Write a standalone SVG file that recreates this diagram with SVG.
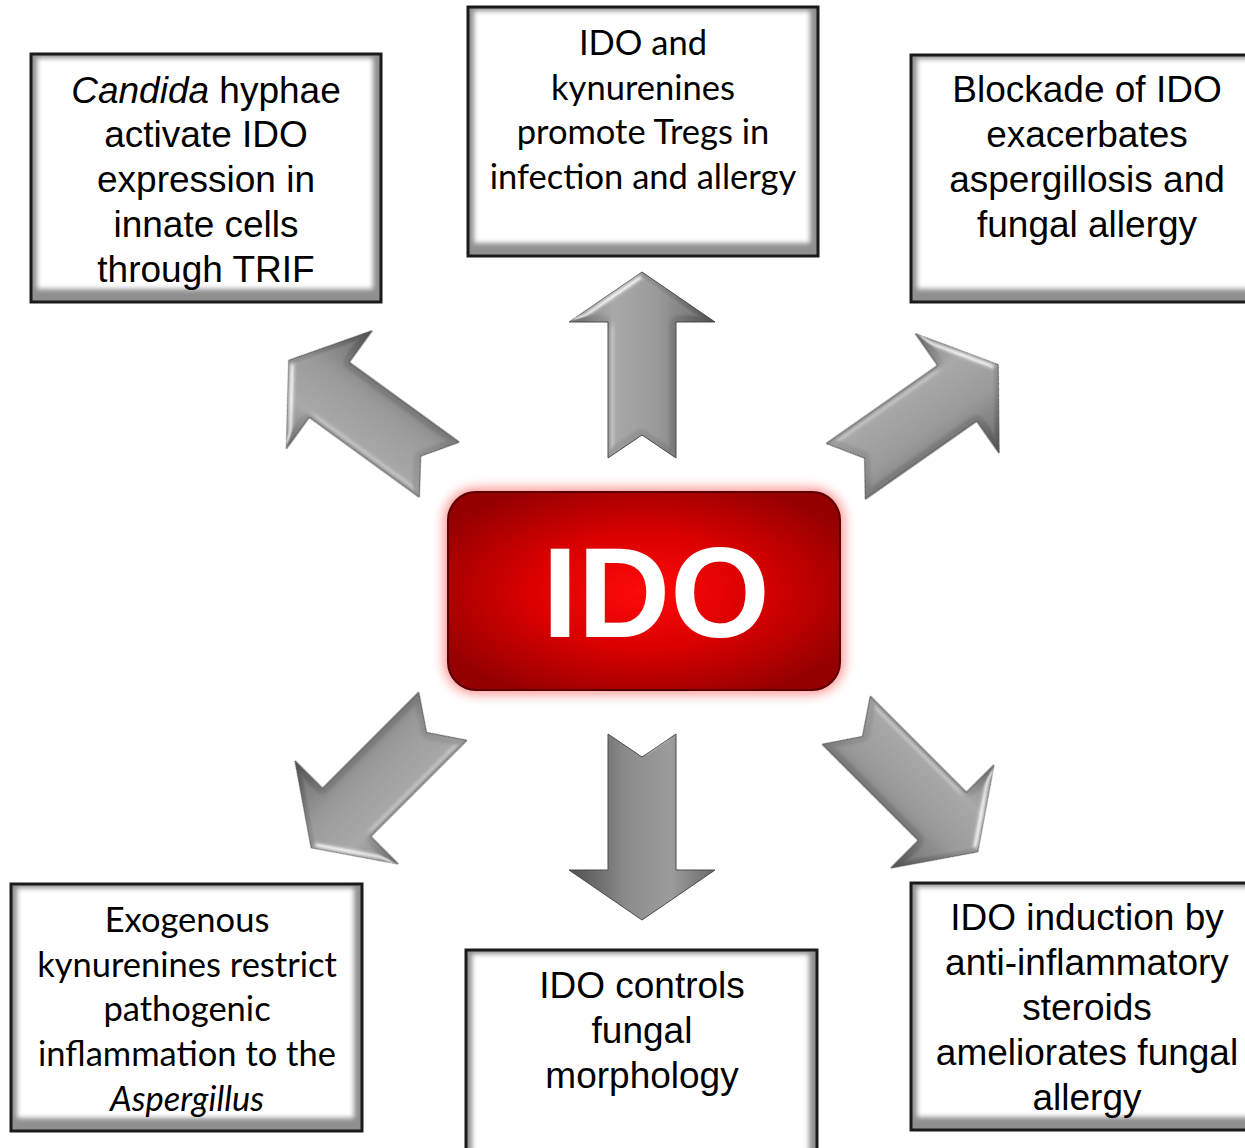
<svg xmlns="http://www.w3.org/2000/svg" width="1245" height="1148" viewBox="0 0 1245 1148">
<style>
.frame{fill:#8f8f8f}
.face{fill:#ffffff;filter:url(#soft)}
.border{fill:none;stroke:#1a1a1a;stroke-width:3}
.arial{font-family:"Liberation Sans",Arial,sans-serif;font-size:37px;fill:#000;text-anchor:middle}
.cal{font-family:Lato,"Open Sans",sans-serif;font-size:34.5px;fill:#000;text-anchor:middle}
.arrow{fill:url(#metal);stroke:#4a4a4a;stroke-width:1;filter:url(#bevel)}
</style>
<defs>
<filter id="soft" x="-5%" y="-5%" width="110%" height="110%">
<feGaussianBlur stdDeviation="2.5"/>
</filter>
<filter id="glow" x="-20%" y="-20%" width="140%" height="140%">
<feGaussianBlur stdDeviation="6"/>
</filter>
<filter id="bevel" x="-10%" y="-10%" width="120%" height="120%">
<feGaussianBlur in="SourceAlpha" stdDeviation="3" result="b"/>
<feSpecularLighting in="b" surfaceScale="4" specularConstant="0.55" specularExponent="22" lighting-color="#ffffff" result="s">
<feDistantLight azimuth="225" elevation="40"/>
</feSpecularLighting>
<feComposite in="s" in2="SourceAlpha" operator="in" result="si"/>
<feComposite in="SourceGraphic" in2="si" operator="arithmetic" k1="0" k2="1" k3="1" k4="0"/>
</filter>
<linearGradient id="metal" x1="0" y1="0" x2="1" y2="0">
<stop offset="0" stop-color="#6a6a6a"/>
<stop offset="0.3" stop-color="#9c9c9c"/>
<stop offset="0.6" stop-color="#8c8c8c"/>
<stop offset="1" stop-color="#505050"/>
</linearGradient>
<radialGradient id="red" cx="0.5" cy="0.5" r="0.6">
<stop offset="0" stop-color="#ff0a0a"/>
<stop offset="0.5" stop-color="#d80000"/>
<stop offset="1" stop-color="#940000"/>
</radialGradient>
<path id="arr" d="M0,-93 L73,-43 L34,-43 L34,93 L0,70 L-34,93 L-34,-43 L-73,-43 Z"/>
</defs>
<rect width="1245" height="1148" fill="#ffffff"/>

<g id="connectors">
<use href="#arr" class="arrow" transform="translate(642,365)"/>
<use href="#arr" class="arrow" transform="translate(364,415) rotate(-54)"/>
<use href="#arr" class="arrow" transform="translate(922,418) rotate(55)"/>
<use href="#arr" class="arrow" transform="translate(377,782) rotate(-135)"/>
<use href="#arr" class="arrow" transform="translate(912,786) rotate(135)"/>
<use href="#arr" class="arrow" transform="translate(642,827) rotate(180)"/>
</g>

<g id="n-ido">
<rect x="444" y="488" width="400" height="206" rx="32" fill="#ff9090" filter="url(#glow)"/>
<rect x="448" y="492" width="392" height="198" rx="28" fill="url(#red)" stroke="#5a0000" stroke-width="2"/>
<text x="656" y="637" font-family="'Liberation Sans',Arial,sans-serif" font-weight="bold" font-size="128" fill="#ffffff" text-anchor="middle">IDO</text>
</g>

<g id="n-candida">
<rect class="frame" x="31" y="54" width="350" height="248"/>
<rect class="face" x="37" y="58" width="336" height="231"/>
<rect class="border" x="31" y="54" width="350" height="248"/>
<text class="arial"><tspan x="206" y="103"><tspan font-style="italic">Candida</tspan> hyphae</tspan><tspan x="206" y="147">activate IDO</tspan><tspan x="206" y="192">expression in</tspan><tspan x="206" y="237">innate cells</tspan><tspan x="206" y="282">through TRIF</tspan></text>
</g>

<g id="n-tregs">
<rect class="frame" x="468" y="7" width="350" height="249"/>
<rect class="face" x="474" y="11" width="336" height="232"/>
<rect class="border" x="468" y="7" width="350" height="249"/>
<text class="cal"><tspan x="643" y="55">IDO and</tspan><tspan x="643" y="100">kynurenines</tspan><tspan x="643" y="144">promote Tregs in</tspan><tspan x="643" y="189">infection and allergy</tspan></text>
</g>

<g id="n-blockade">
<rect class="frame" x="911" y="55" width="350" height="247"/>
<rect class="face" x="917" y="59" width="336" height="230"/>
<rect class="border" x="911" y="55" width="350" height="247"/>
<text class="arial"><tspan x="1087" y="102">Blockade of IDO</tspan><tspan x="1087" y="147">exacerbates</tspan><tspan x="1087" y="192">aspergillosis and</tspan><tspan x="1087" y="237">fungal allergy</tspan></text>
</g>

<g id="n-exogenous">
<rect class="frame" x="11" y="884" width="351" height="247"/>
<rect class="face" x="17" y="888" width="337" height="230"/>
<rect class="border" x="11" y="884" width="351" height="247"/>
<text class="cal"><tspan x="187" y="932">Exogenous</tspan><tspan x="187" y="977">kynurenines restrict</tspan><tspan x="187" y="1021">pathogenic</tspan><tspan x="187" y="1066">inflammation to the</tspan><tspan x="187" y="1111" font-style="italic">Aspergillus</tspan></text>
</g>

<g id="n-morphology">
<rect class="frame" x="466" y="950" width="351" height="248"/>
<rect class="face" x="472" y="954" width="337" height="231"/>
<rect class="border" x="466" y="950" width="351" height="248"/>
<text class="arial"><tspan x="642" y="998">IDO controls</tspan><tspan x="642" y="1043">fungal</tspan><tspan x="642" y="1088">morphology</tspan></text>
</g>

<g id="n-steroids">
<rect class="frame" x="911" y="883" width="350" height="247"/>
<rect class="face" x="917" y="887" width="336" height="230"/>
<rect class="border" x="911" y="883" width="350" height="247"/>
<text class="arial"><tspan x="1087" y="930">IDO induction by</tspan><tspan x="1087" y="975">anti-inflammatory</tspan><tspan x="1087" y="1020">steroids</tspan><tspan x="1087" y="1065">ameliorates fungal</tspan><tspan x="1087" y="1110">allergy</tspan></text>
</g>
</svg>
